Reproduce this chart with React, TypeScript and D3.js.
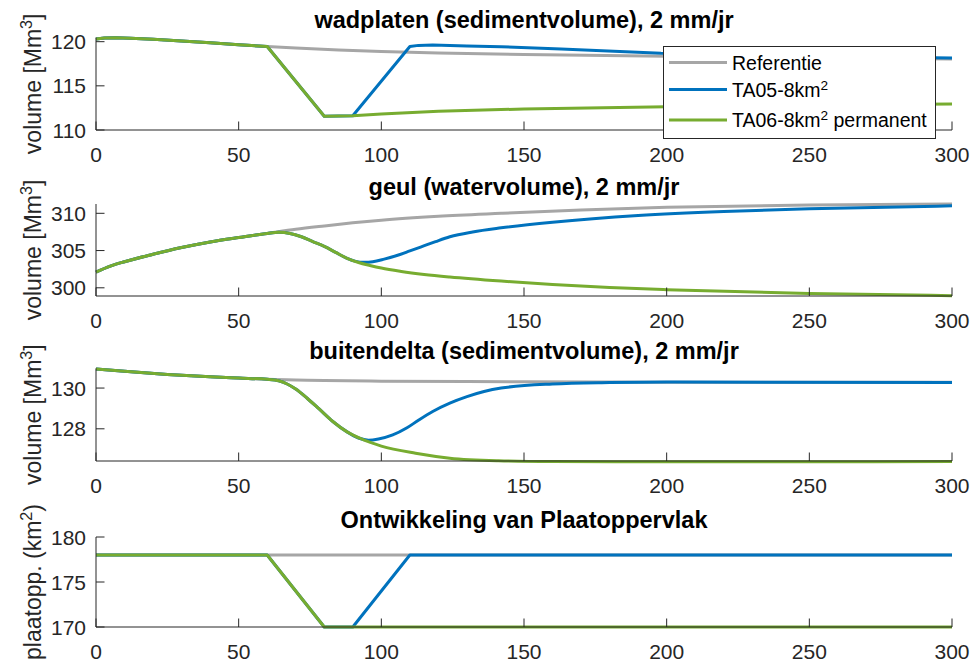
import React from "react";
import * as d3 from "d3";

// Time axis (jaren) shared by all panels
const xTicks = [0, 50, 100, 150, 200, 250, 300];

// Wadplaten – sedimentvolume [Mm3]
const wadRefYears = [0, 3, 7, 12, 20, 30, 40, 50, 60, 70, 85, 100, 120, 150, 200, 250, 300];
const wadRefValues = [120.3, 120.42, 120.45, 120.4, 120.27, 120.07, 119.87, 119.66, 119.45, 119.28, 119.06, 118.9, 118.72, 118.55, 118.36, 118.18, 118.05];
const wadTA05Years = [0, 3, 7, 12, 20, 30, 40, 50, 60, 80, 90, 110, 113, 118, 130, 142, 163, 198, 250, 300];
const wadTA05Values = [120.3, 120.42, 120.45, 120.4, 120.27, 120.07, 119.87, 119.66, 119.45, 111.55, 111.62, 119.45, 119.58, 119.62, 119.52, 119.42, 119.17, 118.7, 118.38, 118.15];
const wadTA06Years = [0, 3, 7, 12, 20, 30, 40, 50, 60, 80, 90, 100, 120, 150, 200, 250, 300];
const wadTA06Values = [120.3, 120.42, 120.45, 120.4, 120.27, 120.07, 119.87, 119.66, 119.45, 111.55, 111.62, 111.8, 112.12, 112.38, 112.64, 112.82, 112.95];
const wadTicks = [110, 115, 120];

// Geul – watervolume [Mm3]
const geulRefYears = [0, 5, 10, 20, 30, 40, 50, 60, 70, 80, 90, 100, 120, 142, 170, 200, 250, 300];
const geulRefValues = [302.1, 302.9, 303.5, 304.5, 305.4, 306.15, 306.75, 307.3, 307.85, 308.3, 308.72, 309.08, 309.6, 310.0, 310.45, 310.8, 311.1, 311.25];
const geulTA05Years = [0, 5, 10, 20, 30, 40, 50, 60, 64, 68, 72, 76, 80, 84, 88, 91, 94, 97, 101, 106, 110, 114, 119, 124, 132, 142, 160, 190, 220, 250, 300];
const geulTA05Values = [302.1, 302.9, 303.5, 304.5, 305.4, 306.15, 306.75, 307.3, 307.45, 307.3, 306.85, 306.2, 305.55, 304.75, 303.95, 303.55, 303.42, 303.5, 303.85, 304.4, 304.95, 305.5, 306.2, 306.85, 307.5, 308.05, 308.8, 309.7, 310.25, 310.6, 311.0];
const geulTA06Years = [0, 5, 10, 20, 30, 40, 50, 60, 64, 68, 72, 76, 80, 84, 88, 92, 96, 100, 107, 115, 124, 142, 160, 180, 200, 250, 300];
const geulTA06Values = [302.1, 302.9, 303.5, 304.5, 305.4, 306.15, 306.75, 307.3, 307.45, 307.3, 306.85, 306.2, 305.55, 304.75, 303.95, 303.4, 303.0, 302.65, 302.2, 301.8, 301.45, 300.9, 300.45, 300.05, 299.75, 299.25, 298.95];
const geulTicks = [300, 305, 310];

// Buitendelta – sedimentvolume [Mm3]
const deltaRefYears = [0, 10, 25, 40, 50, 60, 70, 80, 100, 150, 200, 300];
const deltaRefValues = [130.93, 130.82, 130.67, 130.55, 130.49, 130.43, 130.4, 130.37, 130.34, 130.31, 130.29, 130.28];
const deltaTA05Years = [0, 10, 25, 40, 50, 60, 64, 67, 70, 74, 78, 83, 88, 92, 95.5, 99, 104, 109, 113, 118, 124, 130, 136, 142, 160, 180, 200, 300];
const deltaTA05Values = [130.93, 130.82, 130.67, 130.55, 130.49, 130.43, 130.36, 130.2, 129.95, 129.5, 129.0, 128.36, 127.85, 127.55, 127.44, 127.5, 127.7, 128.05, 128.42, 128.85, 129.26, 129.58, 129.83, 130.0, 130.2, 130.27, 130.3, 130.27];
const deltaTA06Years = [0, 10, 25, 40, 50, 60, 64, 67, 70, 74, 78, 83, 88, 93, 100, 112, 124, 141, 160, 200, 250, 300];
const deltaTA06Values = [130.93, 130.82, 130.67, 130.55, 130.49, 130.43, 130.36, 130.2, 129.95, 129.5, 129.0, 128.36, 127.85, 127.5, 127.15, 126.8, 126.56, 126.43, 126.39, 126.38, 126.38, 126.39];
const deltaTicks = [128, 130];

// Plaatoppervlak [km2]
const plaatRefYears = [0, 300];
const plaatRefValues = [178, 178];
const plaatTA05Years = [0, 60, 80, 90, 110, 300];
const plaatTA05Values = [178, 178, 170, 170, 178, 178];
const plaatTA06Years = [0, 60, 80, 300];
const plaatTA06Values = [178, 178, 170, 170];
const plaatTicks = [170, 175, 180];

const seriesNames = ["Referentie", "TA05-8km", "TA06-8km"];
const seriesColors = ["#a6a6a6", "#0072bd", "#77ac30"];

const FONT = "'Liberation Sans', Arial, Helvetica, sans-serif";
const AXIS = "#262626";

type Series = { years: number[]; values: number[]; color: string };
type Panel = {
  title: string;
  label: string;
  sup: string;
  labelTail: string;
  domain: [number, number];
  ticks: number[];
  top: number;
  bottom: number;
  curve: d3.CurveFactory;
  series: Series[];
};

const mk = (years: number[], values: number[], i: number): Series => ({
  years,
  values,
  color: seriesColors[i],
});

const panels: Panel[] = [
  {
    title: "wadplaten (sedimentvolume), 2 mm/jr",
    label: "volume [Mm",
    sup: "3",
    labelTail: "]",
    domain: [110, 120.45],
    ticks: wadTicks,
    top: 37.7,
    bottom: 130,
    curve: d3.curveLinear,
    series: [
      mk(wadRefYears, wadRefValues, 0),
      mk(wadTA05Years, wadTA05Values, 1),
      mk(wadTA06Years, wadTA06Values, 2),
    ],
  },
  {
    title: "geul (watervolume), 2 mm/jr",
    label: "volume [Mm",
    sup: "3",
    labelTail: "]",
    domain: [298.9, 311.25],
    ticks: geulTicks,
    top: 204,
    bottom: 296,
    curve: d3.curveMonotoneX,
    series: [
      mk(geulRefYears, geulRefValues, 0),
      mk(geulTA05Years, geulTA05Values, 1),
      mk(geulTA06Years, geulTA06Values, 2),
    ],
  },
  {
    title: "buitendelta (sedimentvolume), 2 mm/jr",
    label: "volume [Mm",
    sup: "3",
    labelTail: "]",
    domain: [126.42, 130.97],
    ticks: deltaTicks,
    top: 368.3,
    bottom: 461,
    curve: d3.curveMonotoneX,
    series: [
      mk(deltaRefYears, deltaRefValues, 0),
      mk(deltaTA05Years, deltaTA05Values, 1),
      mk(deltaTA06Years, deltaTA06Values, 2),
    ],
  },
  {
    title: "Ontwikkeling van Plaatoppervlak",
    label: "plaatopp. (km",
    sup: "2",
    labelTail: ")",
    domain: [170, 180],
    ticks: plaatTicks,
    top: 537,
    bottom: 627,
    curve: d3.curveLinear,
    series: [
      mk(plaatRefYears, plaatRefValues, 0),
      mk(plaatTA05Years, plaatTA05Values, 1),
      mk(plaatTA06Years, plaatTA06Values, 2),
    ],
  },
];

const X0 = 96;
const X1 = 952;
const TICK = 8.5;

function PanelView({ p }: { p: Panel }) {
  const x = d3.scaleLinear().domain([0, 300]).range([X0, X1]);
  const y = d3.scaleLinear().domain(p.domain).range([p.bottom, p.top]);
  const mid = (p.top + p.bottom) / 2;
  return (
    <g>
      {p.series.map((s, i) => {
        const line = d3
          .line<number>()
          .x((_, k) => x(s.years[k]))
          .y((v) => y(v))
          .curve(p.curve);
        return (
          <path
            key={i}
            d={line(s.values) || ""}
            fill="none"
            stroke={s.color}
            strokeWidth={3}
            strokeLinejoin="round"
          />
        );
      })}
      {/* axes: left and bottom only, ticks pointing inward */}
      <line x1={X0} x2={X0} y1={p.top} y2={p.bottom} stroke={AXIS} strokeWidth={1} />
      <line x1={X0} x2={X1} y1={p.bottom} y2={p.bottom} stroke={AXIS} strokeWidth={1} />
      {xTicks.map((t) => (
        <g key={"x" + t}>
          <line x1={x(t)} x2={x(t)} y1={p.bottom} y2={p.bottom - TICK} stroke={AXIS} strokeWidth={1} />
          <text x={x(t)} y={p.bottom + 32} textAnchor="middle" fontSize={21} fill={AXIS} fontFamily={FONT}>
            {t}
          </text>
        </g>
      ))}
      {p.ticks.map((t) => (
        <g key={"y" + t}>
          <line x1={X0} x2={X0 + TICK} y1={y(t)} y2={y(t)} stroke={AXIS} strokeWidth={1} />
          <text x={86} y={y(t) + 7.5} textAnchor="end" fontSize={21} fill={AXIS} fontFamily={FONT}>
            {t}
          </text>
        </g>
      ))}
      <text
        x={(X0 + X1) / 2}
        y={p.top - 9.5}
        textAnchor="middle"
        fontSize={23.5}
        fontWeight="bold"
        fill="#000"
        fontFamily={FONT}
      >
        {p.title}
      </text>
      <text
        transform={`translate(41, ${mid}) rotate(-90)`}
        textAnchor="middle"
        fontSize={23}
        fill={AXIS}
        fontFamily={FONT}
      >
        {p.label}
        <tspan baselineShift="super" fontSize="70%">
          {p.sup}
        </tspan>
        {p.labelTail}
      </text>
    </g>
  );
}

function Legend() {
  const rows = [62.5, 89.5, 120];
  return (
    <g fontFamily={FONT} fontSize={19.5} fill="#000">
      <rect x={663.5} y={46.5} width={272} height={92} fill="#fff" stroke={AXIS} strokeWidth={1} />
      {seriesNames.map((name, i) => (
        <g key={name}>
          <line x1={669} x2={727} y1={rows[i]} y2={rows[i]} stroke={seriesColors[i]} strokeWidth={3} />
          <text x={732} y={rows[i] + 7}>
            {name}
            {i > 0 && (
              <tspan baselineShift="super" fontSize="70%">
                2
              </tspan>
            )}
            {i === 2 && " permanent"}
          </text>
        </g>
      ))}
    </g>
  );
}

export default function App() {
  return (
    <svg
      width={977}
      height={666}
      style={{ position: "absolute", left: 0, top: 0, background: "#fff" }}
    >
      <rect width={977} height={666} fill="#fff" />
      {panels.map((p, i) => (
        <PanelView key={i} p={p} />
      ))}
      <Legend />
    </svg>
  );
}
